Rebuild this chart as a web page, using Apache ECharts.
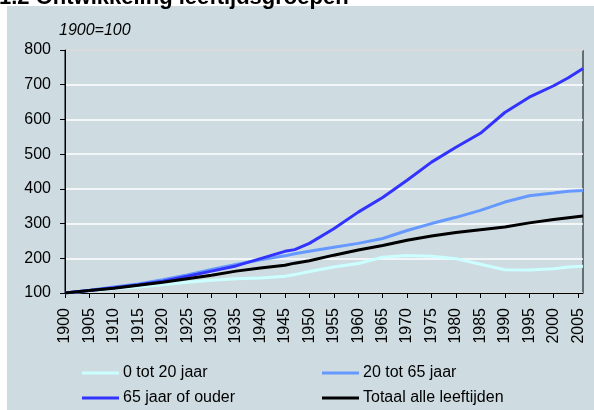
<!DOCTYPE html>
<html>
<head>
<meta charset="utf-8">
<script src="https://cdn.jsdelivr.net/npm/echarts@6/dist/echarts.min.js"></script>
<style>
  html, body { margin: 0; padding: 0; background: #fff; }
  #chart { width: 594px; height: 410px; }
</style>
</head>
<body>
<div id="chart"></div>
<script>
// index 1900 = 100
const years = [1900, 1905, 1910, 1915, 1920, 1925, 1930, 1935, 1940, 1945, 1947, 1950,
  1955, 1960, 1965, 1970, 1975, 1980, 1985, 1990, 1995, 2000, 2003, 2006];
const jong = [100, 106, 112, 117, 124, 131, 137, 141, 143, 148, 153, 162,
  175, 185, 203, 208, 206, 199, 183, 167, 166, 170, 175, 177];
const midden = [100, 108, 117, 126, 138, 152, 168, 182, 196, 207, 213, 220,
  232, 243, 257, 280, 300, 318, 338, 362, 380, 388, 393, 395];
const oud = [100, 107, 115, 124, 134, 148, 163, 178, 199, 220, 225, 243,
  285, 333, 375, 425, 477, 520, 560, 620, 664, 697, 720, 747];
const totaal = [100, 107, 114, 122, 131, 141, 151, 163, 172, 180, 186, 193,
  209, 224, 237, 252, 264, 274, 282, 290, 302, 312, 317, 322];

const names = ["0 tot 20 jaar", "20 tot 65 jaar", "65 jaar of ouder", "Totaal alle leeftijden"];
const colors = ["#ccffff", "#6699ff", "#3333ff", "#000000"];
const values = [jong, midden, oud, totaal];

const font = "'Liberation Sans', Arial, sans-serif";
const chart = echarts.init(document.getElementById("chart"));

// legenda in twee kolommen, één legend per item
const legendPos = [[82, 365], [322, 365], [82, 390], [322, 390]];
const legends = names.map((name, i) => ({
  left: legendPos[i][0],
  top: legendPos[i][1],
  padding: 0,
  icon: "rect",
  itemWidth: 37,
  itemHeight: 3,
  data: [name],
  textStyle: { fontSize: 16, color: "#000", fontFamily: font, padding: [0, 0, 0, -1] },
}));

chart.setOption({
  backgroundColor: "#ffffff",
  animation: false,
  textStyle: { fontFamily: font },
  title: {
    text: "1.2 Ontwikkeling leeftijdsgroepen",
    left: -1,
    top: -13,
    padding: 0,
    textStyle: { fontSize: 22, fontWeight: "bold", color: "#000", fontFamily: font },
  },
  graphic: [
    {
      type: "rect",
      z: -10,
      silent: true,
      shape: { x: 7, y: 6, width: 600, height: 410 },
      style: { fill: "#cedce2" },
    },
    {
      type: "text",
      left: 59,
      top: 23,
      style: { text: "1900=100", font: "italic 16px " + font, fill: "#000" },
    },
  ],
  grid: {
    left: 65,
    right: 11,
    top: 50,
    bottom: 117,
    show: true,
    borderColor: "#000",
    borderWidth: 1,
    backgroundColor: "transparent",
  },
  legend: legends,
  xAxis: {
    type: "value",
    min: 1900,
    max: 2006,
    interval: 5,
    axisLine: { lineStyle: { color: "#000", width: 1 } },
    axisTick: { length: 5, lineStyle: { color: "#000" } },
    axisLabel: {
      rotate: 90,
      margin: 15,
      fontSize: 16,
      color: "#000",
      fontFamily: font,
      showMaxLabel: false,
      formatter: (v) => (v % 5 === 0 ? String(v) : ""),
    },
    splitLine: { show: false },
  },
  yAxis: {
    type: "value",
    min: 100,
    max: 800,
    interval: 100,
    axisLine: { show: true, lineStyle: { color: "#000", width: 1 } },
    axisTick: { show: true, length: 5, lineStyle: { color: "#000" } },
    axisLabel: { margin: 14, fontSize: 16, color: "#000", fontFamily: font },
    splitLine: { lineStyle: { color: "#ffffff", width: 1.5 } },
  },
  series: names.map((name, i) => ({
    name: name,
    type: "line",
    symbol: "none",
    color: colors[i],
    lineStyle: { width: 3, color: colors[i] },
    data: years.map((y, k) => [y, values[i][k]]),
  })),
});
</script>
</body>
</html>
